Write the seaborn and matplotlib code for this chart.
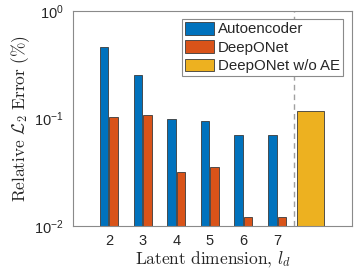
import matplotlib
matplotlib.use("Agg")
import matplotlib.pyplot as plt
import seaborn as sns
import pandas as pd
from matplotlib.patches import Patch

# ---- data ----
latent_dims = [2, 3, 4, 5, 6, 7]
autoencoder_err = [0.466, 0.254, 0.098, 0.095, 0.070, 0.070]
deeponet_err = [0.103, 0.108, 0.032, 0.0356, 0.0120, 0.0120]
no_ae_pos = [8]
deeponet_no_ae_err = [0.118]
series_names = ["Autoencoder", "DeepONet", "DeepONet w/o AE"]
colors = ["#0072BD", "#D95319", "#EDB120"]

df = pd.DataFrame({
    "ld": latent_dims * 2,
    "err": autoencoder_err + deeponet_err,
    "model": [series_names[0]] * len(latent_dims) + [series_names[1]] * len(latent_dims),
})
df2 = pd.DataFrame({"ld": no_ae_pos, "err": deeponet_no_ae_err,
                    "model": [series_names[2]] * len(no_ae_pos)})

sns.set_style("white")
plt.rcParams["font.family"] = ["Liberation Sans", "DejaVu Sans"]
plt.rcParams["mathtext.fontset"] = "cm"

fig = plt.figure(figsize=(3.59, 2.72), dpi=100)
ax = fig.add_axes([73 / 359, 1 - 226 / 272, (352 - 73) / 359, (226 - 11) / 272])
ax.set_yscale("log")

sns.barplot(data=df, x="ld", y="err", hue="model", native_scale=True,
            palette=colors[:2], saturation=1, width=0.56, gap=0.1, errorbar=None,
            edgecolor="#3a3a3a", linewidth=0.6, legend=False, ax=ax)
sns.barplot(data=df2, x="ld", y="err", hue="model", native_scale=True,
            palette=[colors[2]], saturation=1, width=0.8, errorbar=None,
            edgecolor="#3a3a3a", linewidth=0.6, legend=False, ax=ax)

ax.axvline(7.5, color="#a0a0a0", linestyle=(0, (4, 3)), linewidth=1.0, zorder=0.5)

ax.set_xlim(0.93, 9.23)
ax.set_ylim(0.01, 1)
ax.set_xticks(latent_dims)
ax.set_xticklabels([str(v) for v in latent_dims])
ax.set_yticks([0.01, 0.1, 1])
ax.minorticks_off()
ax.tick_params(axis="both", length=0, labelsize=10.5, colors="#262626")
ax.tick_params(axis="x", pad=6)
ax.tick_params(axis="y", pad=6.5)

for sp in ax.spines.values():
    sp.set_visible(True)
    sp.set_color("#8a8a8a")
    sp.set_linewidth(0.8)

ax.set_xlabel(r"$\mathrm{Latent\ dimension,}\,l_d$", fontsize=12.5, color="#262626", labelpad=1)
ax.set_ylabel(r"$\mathrm{Relative}\ \mathcal{L}_2\ \mathrm{Error}\ (\%)$", fontsize=12.5,
              color="#262626", labelpad=2)

handles = [Patch(facecolor=c, edgecolor="#3a3a3a", linewidth=0.6) for c in colors]
leg = ax.legend(handles, series_names, loc="upper right", bbox_to_anchor=(0.968, 0.963),
                borderaxespad=0, fontsize=10.8, frameon=True, fancybox=False,
                edgecolor="#8a8a8a", framealpha=1, handlelength=1.95, handleheight=0.93,
                handletextpad=0.25, labelspacing=0.25, borderpad=0.2)
leg.get_frame().set_linewidth(0.8)

fig.savefig("out.png", dpi=100)
